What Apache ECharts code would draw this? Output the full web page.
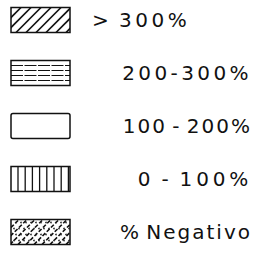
<!DOCTYPE html>
<html>
<head>
    <meta charset="utf-8">
    <title>Legend</title>
    <script src="https://cdn.jsdelivr.net/npm/echarts@6/dist/echarts.min.js"></script>
    <style>
        html, body { margin: 0; padding: 0; background: #fff; }
        #main text { letter-spacing: 2px; word-spacing: -3px; }
    </style>
</head>
<body>
<div id="main" style="width: 256px;height:263px;"></div>
<script type="text/javascript">
    // legend classes, top to bottom
    var categories = ['> 300%', '200-300%', '100 - 200%', '0 - 100%', '% Negativo'];
    var hatches = ['diagonal', 'horizontal', 'empty', 'vertical', 'stipple'];

    // hand lettering is wider for some labels
    var spacing = {'> 300%': 3.5, '200-300%': 3.4, '100 - 200%': 2, '0 - 100%': 3.8, '% Negativo': 2};

    var myChart = echarts.init(document.getElementById('main'), null, {renderer: 'svg'});

    function hatchLines(kind, x0, y0, w, h) {
        var out = [];
        var k;
        if (kind === 'diagonal' || kind === 'stipple') {
            var step = kind === 'diagonal' ? 10 : 8;
            for (k = -h; k < w + step; k += step) {
                out.push({
                    type: 'line',
                    shape: {x1: x0 + k, y1: y0 + h, x2: x0 + k + h, y2: y0},
                    style: kind === 'diagonal'
                        ? {stroke: '#111', lineWidth: 1.6}
                        : {stroke: '#111', lineWidth: 1.6, lineDash: [4, 2]}
                });
            }
            if (kind === 'stipple') {
                for (k = 2; k < w; k += 5) {
                    for (var j = 3; j < h; j += 6) {
                        out.push({
                            type: 'circle',
                            shape: {cx: x0 + k + (j % 4), cy: y0 + j, r: 0.8},
                            style: {fill: '#222'}
                        });
                    }
                }
            }
        } else if (kind === 'horizontal') {
            for (k = 5; k < h; k += 5) {
                out.push({
                    type: 'line',
                    shape: {x1: x0, y1: y0 + k, x2: x0 + w, y2: y0 + k},
                    style: {stroke: '#111', lineWidth: 1.1, lineDash: [12, 1.5]}
                });
            }
        } else if (kind === 'vertical') {
            for (k = 7; k < w; k += 7.2) {
                out.push({
                    type: 'line',
                    shape: {x1: x0 + k, y1: y0, x2: x0 + k, y2: y0 + h},
                    style: {stroke: '#111', lineWidth: 1.3}
                });
            }
        }
        return out;
    }

    option = {
        backgroundColor: '#fff',
        animation: false,
        grid: {left: 0, right: 0, top: 20, bottom: 31},
        xAxis: {type: 'value', min: 0, max: 256, show: false},
        yAxis: {
            type: 'category',
            data: categories,
            inverse: true,
            boundaryGap: false,
            show: false
        },
        series: [{
            type: 'custom',
            data: categories.map(function (c, i) { return [0, i]; }),
            renderItem: function (params, api) {
                var i = api.value(1);
                var p = api.coord([0, i]);
                var cy = p[1];
                var x0 = p[0] + 11, w = 59, h = 25;
                var y0 = cy - h / 2;
                var children = [{
                    type: 'group',
                    clipPath: {type: 'rect', shape: {x: x0, y: y0, width: w, height: h}},
                    children: hatchLines(hatches[i], x0, y0, w, h)
                }, {
                    type: 'rect',
                    shape: {x: x0, y: y0, width: w, height: h, r: i === 2 ? 2 : 0},
                    style: {fill: null, stroke: '#111', lineWidth: 1.5}
                }];
                var first = i === 0;
                children.push({
                    type: 'text',
                    style: {
                        x: first ? 92 : 252,
                        y: cy,
                        text: categories[i],
                        align: first ? 'left' : 'right',
                        verticalAlign: 'middle',
                        fontFamily: 'DejaVu Sans',
                        fontSize: 20,
                        fill: '#111'
                    }
                });
                return {type: 'group', children: children};
            }
        }]
    };

    myChart.setOption(option);

    var texts = document.querySelectorAll('#main svg text');
    for (var t = 0; t < texts.length; t++) {
        var s = spacing[texts[t].textContent];
        if (s !== undefined) {
            texts[t].style.letterSpacing = s + 'px';
        }
    }
</script>
</body>
</html>
